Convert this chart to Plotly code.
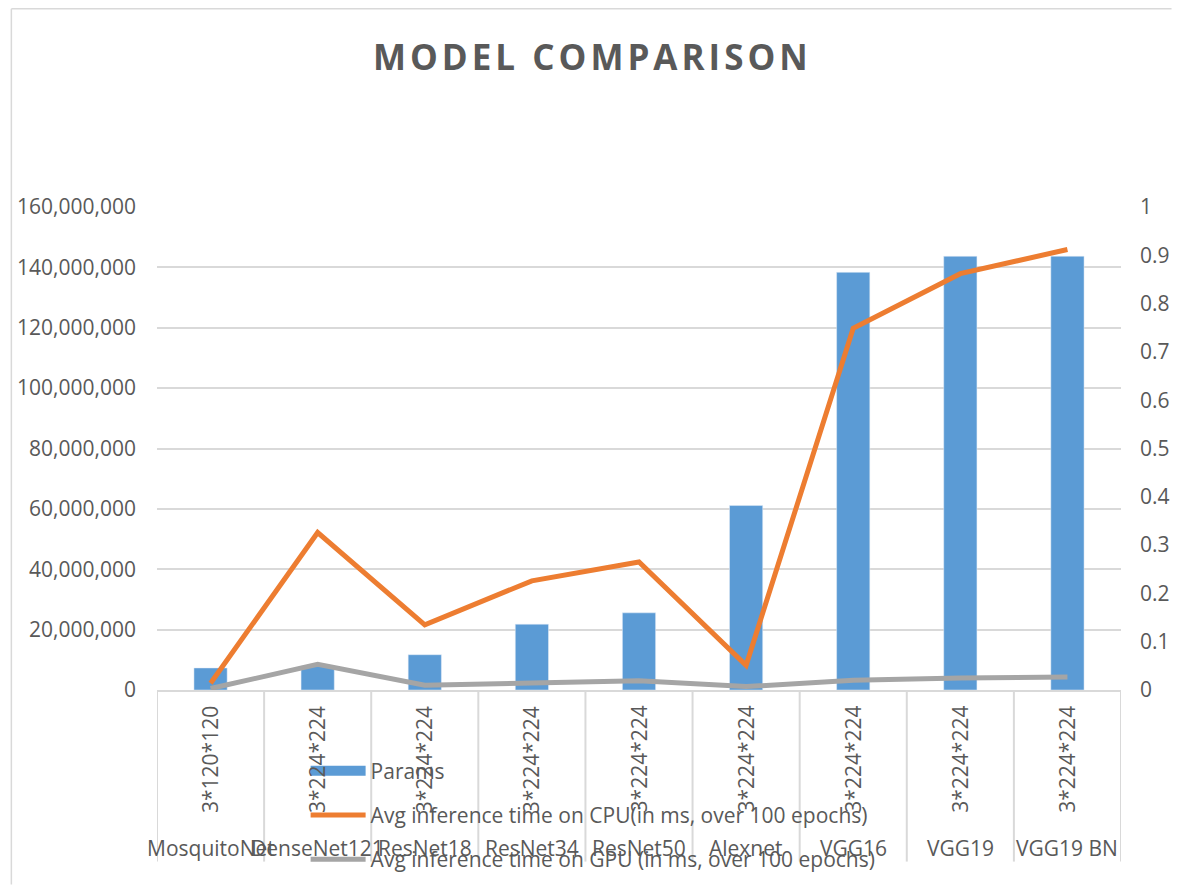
import plotly.graph_objects as go

models = ["MosquitoNet", "DenseNet121", "ResNet18", "ResNet34", "ResNet50",
          "Alexnet", "VGG16", "VGG19", "VGG19 BN"]
input_sizes = ["3*120*120", "3*224*224", "3*224*224", "3*224*224", "3*224*224",
               "3*224*224", "3*224*224", "3*224*224", "3*224*224"]
params = [7300000, 7980000, 11690000, 21800000, 25560000,
          61100000, 138360000, 143670000, 143680000]
cpu_time = [0.014, 0.326, 0.135, 0.226, 0.265, 0.051, 0.749, 0.862, 0.912]
gpu_time = [0.003, 0.053, 0.010, 0.015, 0.019, 0.007, 0.020, 0.025, 0.027]

BLUE, ORANGE, GRAY = "#5B9BD5", "#ED7D31", "#A5A5A5"
GRAY_TXT = "#595959"
GRID = "#D9D9D9"
FONT = "Open Sans"

W, H = 1182, 891
L, R, T, B = 157, 52, 207, 197
pw, ph = W - L - R, H - T - B


def py2p(py):
    return (H - B - py) / ph


def px2p(px):
    return (px - L) / pw


fig = go.Figure()
fig.add_trace(go.Bar(x=models, y=params, name="Params", marker_color=BLUE,
                     showlegend=False, yaxis="y"))
# legend-only entry to mimic the wide Excel legend key for the bars
fig.add_trace(go.Scatter(x=[None], y=[None], mode="lines", name="Params",
                         line=dict(color=BLUE, width=14), legendgroup="a",
                         hoverinfo="skip"))
fig.add_trace(go.Scatter(x=models, y=cpu_time, mode="lines",
                         name="Avg inference time on CPU(in ms, over 100 epochs)",
                         line=dict(color=ORANGE, width=5), legendgroup="b", yaxis="y2"))
fig.add_trace(go.Scatter(x=models, y=gpu_time, mode="lines",
                         name="Avg inference time on GPU (in ms, over 100 epochs)",
                         line=dict(color=GRAY, width=5), legendgroup="c", yaxis="y2"))

annotations = []
shapes = []
for m, s in zip(models, input_sizes):
    annotations.append(dict(x=m, y=py2p(764), xref="x", yref="paper",
                            text=s, textangle=-90, showarrow=False,
                            font=dict(family=FONT, size=21, color=GRAY_TXT),
                            xanchor="center", yanchor="middle"))
    annotations.append(dict(x=m, y=py2p(853), xref="x", yref="paper",
                            text=m, showarrow=False,
                            font=dict(family=FONT, size=21, color=GRAY_TXT),
                            xanchor="center", yanchor="middle"))
for i in range(len(models) + 1):
    shapes.append(dict(type="line", xref="x", yref="paper", x0=i - 0.5, x1=i - 0.5,
                       y0=0, y1=py2p(867), line=dict(color=GRID, width=2)))

# chart-area border (top and left edges visible in the reference)
shapes.append(dict(type="line", xref="paper", yref="paper",
                   x0=px2p(10), x1=px2p(1181), y0=py2p(7), y1=py2p(7),
                   line=dict(color=GRID, width=1.5), layer="below"))
shapes.append(dict(type="line", xref="paper", yref="paper",
                   x0=px2p(10), x1=px2p(10), y0=py2p(7), y1=py2p(890),
                   line=dict(color=GRID, width=1.5), layer="below"))

annotations.append(dict(x=px2p(597), y=py2p(55), xref="paper", yref="paper",
                        text='<span style="letter-spacing:4px">MODEL COMPARISON</span>',
                        showarrow=False, xanchor="center", yanchor="middle",
                        font=dict(family=FONT, size=35, color=GRAY_TXT, weight="bold")))

fig.update_layout(
    width=W, height=H,
    margin=dict(l=L, r=R, t=T, b=B),
    paper_bgcolor="white", plot_bgcolor="white",
    bargap=0.69,
    showlegend=True,
    legend=dict(x=px2p(307), y=py2p(755), xanchor="left", yanchor="top",
                bgcolor="rgba(0,0,0,0)", traceorder="grouped", tracegroupgap=14,
                itemwidth=55,
                font=dict(family=FONT, size=21, color=GRAY_TXT)),
    xaxis=dict(type="category", showticklabels=False, showgrid=False,
               showline=True, linecolor=GRID, linewidth=2, ticks="",
               range=[-0.5, len(models) - 0.5], fixedrange=True),
    yaxis=dict(range=[0, 160000000], dtick=20000000, tickformat=",",
               showgrid=True, gridcolor=GRID, gridwidth=2, zeroline=False,
               showline=False, ticklabelstandoff=20,
               tickfont=dict(family=FONT, size=21, color=GRAY_TXT)),
    yaxis2=dict(range=[0, 1], dtick=0.1, overlaying="y", side="right",
                showgrid=False, zeroline=False, showline=False, ticklabelstandoff=18,
                tickfont=dict(family=FONT, size=21, color=GRAY_TXT)),
    annotations=annotations,
    shapes=shapes,
)

fig.write_html("out.html",
               config={"displayModeBar": False},
               post_script="document.body.style.margin='0';"
                           "document.body.style.overflow='hidden';"
                           "document.documentElement.style.overflow='hidden';"
                           "var d=document.getElementById('{plot_id}');"
                           "d.style.position='fixed';d.style.left='0px';d.style.top='0px';")
